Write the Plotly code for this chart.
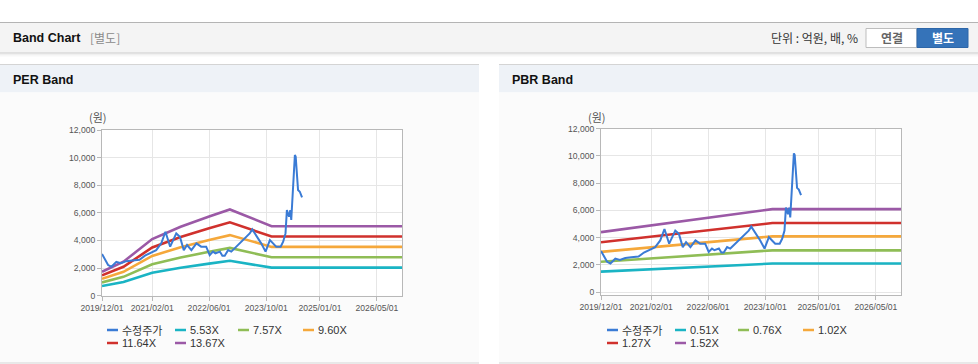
import plotly.graph_objects as go

# ---------------- data ----------------
price_dates = [
    "2019-12-01", "2020-01-22", "2020-02-19", "2020-04-01", "2020-05-10", "2020-06-25",
    "2020-08-15", "2020-10-16", "2020-12-01", "2021-01-11", "2021-03-07", "2021-04-19",
    "2021-05-25", "2021-07-04", "2021-08-25", "2021-09-25", "2021-10-28", "2021-11-25",
    "2022-01-01", "2022-02-13", "2022-03-25", "2022-05-07", "2022-06-06", "2022-07-04",
    "2022-07-25", "2022-09-01", "2022-09-22", "2022-10-12", "2022-11-10", "2022-12-07",
    "2023-01-19", "2023-03-16", "2023-05-13", "2023-06-04", "2023-07-07", "2023-08-19",
    "2023-09-25", "2023-11-01", "2023-11-28", "2023-12-25", "2024-02-01", "2024-02-22",
    "2024-03-13", "2024-03-25", "2024-04-12", "2024-04-23", "2024-05-01", "2024-05-10",
    "2024-05-22", "2024-06-01", "2024-06-08", "2024-06-13", "2024-06-28", "2024-07-13",
    "2024-08-01",
]
price_values = [
    3020, 2220, 2100, 2450, 2350, 2500,
    2550, 2600, 2900, 3070, 3300, 3790,
    4630, 3550, 4510, 4270, 3300, 3670,
    3300, 3790, 3550, 3550, 2940, 3190,
    3070, 3190, 2900, 2900, 3300, 3190,
    3550, 4030, 4510, 4800, 4390, 3790,
    3190, 4030, 3790, 3550, 3550, 3910,
    4510, 6200, 5720, 6200, 5480, 6690,
    8620, 10190, 10070, 9220, 7650, 7530,
    7120,
]

per_dates = ["2019-12-01", "2020-06-01", "2021-02-01", "2021-10-01", "2022-06-01",
             "2022-11-25", "2023-11-15", "2026-12-01"]
per_names = ["5.53X", "7.57X", "9.60X", "11.64X", "13.67X"]
per_553 = [702, 995, 1659, 2018, 2323, 2527, 2035, 2035]
per_757 = [961, 1363, 2271, 2763, 3179, 3459, 2786, 2786]
per_960 = [1219, 1728, 2880, 3504, 4032, 4387, 3533, 3533]
per_1164 = [1478, 2095, 3492, 4249, 4889, 5319, 4284, 4284]
per_1367 = [1736, 2461, 4101, 4990, 5741, 6247, 5031, 5031]

pbr_dates = ["2019-12-01", "2023-12-01", "2026-12-01"]
pbr_names = ["0.51X", "0.76X", "1.02X", "1.27X", "1.52X"]
pbr_051 = [1500, 2090, 2090]
pbr_076 = [2220, 3060, 3060]
pbr_102 = [2950, 4090, 4090]
pbr_127 = [3650, 5070, 5070]
pbr_152 = [4400, 6090, 6090]

price_name = "수정주가"
tick_dates = ["2019-12-01", "2021-02-01", "2022-06-01", "2023-10-01", "2025-01-01", "2026-05-01"]
tick_labels = ["2019/12/01", "2021/02/01", "2022/06/01", "2023/10/01", "2025/01/01", "2026/05/01"]

# ---------------- style ----------------
W, H = 978, 364
price_color = "#3a7bd5"
band_colors = ["#1ab4c4", "#8fbd56", "#f5a83b", "#d0312d", "#9b59a6"]
FONT = "Liberation Sans, Arial, Noto Sans CJK KR, sans-serif"
KFONT = "Noto Sans CJK KR, Liberation Sans, sans-serif"


def px(x):
    return x / W


def py(y):
    return 1 - y / H


fig = go.Figure()

per_bands = [per_553, per_757, per_960, per_1164, per_1367]
pbr_bands = [pbr_051, pbr_076, pbr_102, pbr_127, pbr_152]

for vals, name, col in zip(per_bands, per_names, band_colors):
    fig.add_trace(go.Scatter(x=per_dates, y=vals, name=name, mode="lines",
                             line=dict(color=col, width=2.6), xaxis="x", yaxis="y",
                             showlegend=False, hoverinfo="skip"))
fig.add_trace(go.Scatter(x=price_dates, y=price_values, name=price_name, mode="lines",
                         line=dict(color=price_color, width=2), xaxis="x", yaxis="y",
                         showlegend=False, hoverinfo="skip"))

for vals, name, col in zip(pbr_bands, pbr_names, band_colors):
    fig.add_trace(go.Scatter(x=pbr_dates, y=vals, name=name, mode="lines",
                             line=dict(color=col, width=2.6), xaxis="x2", yaxis="y2",
                             showlegend=False, hoverinfo="skip"))
fig.add_trace(go.Scatter(x=price_dates, y=price_values, name=price_name, mode="lines",
                         line=dict(color=price_color, width=2), xaxis="x2", yaxis="y2",
                         showlegend=False, hoverinfo="skip"))

axis_common = dict(showgrid=True, gridcolor="#e6e6e6", gridwidth=1,
                   showline=True, linecolor="#b8b8b8", linewidth=1, mirror=True,
                   ticks="outside", ticklen=4, tickcolor="#b8b8b8",
                   tickfont=dict(family=FONT, size=8.6, color="#555555"),
                   zeroline=False, fixedrange=True, automargin=False)

xcommon = dict(type="date", range=["2019-12-01", "2026-12-01"],
               tickmode="array", tickvals=tick_dates, ticktext=tick_labels, **axis_common)
ycommon = dict(tickmode="linear", dtick=2000, tickformat=",", **axis_common)

per_box = (102, 402, 130, 295.7)
pbr_box = (601, 901, 128.7, 295)

fig.update_layout(
    width=W, height=H, autosize=False,
    margin=dict(l=0, r=0, t=0, b=0, pad=0, autoexpand=False),
    paper_bgcolor="white", plot_bgcolor="white",
    showlegend=False,
    xaxis=dict(domain=[px(per_box[0]), px(per_box[1])], anchor="y", **xcommon),
    yaxis=dict(domain=[py(per_box[3]), py(per_box[2])], anchor="x", range=[0, 12000], **ycommon),
    xaxis2=dict(domain=[px(pbr_box[0]), px(pbr_box[1])], anchor="y2", **xcommon),
    yaxis2=dict(domain=[py(pbr_box[3]), py(pbr_box[2])], anchor="x2", range=[-220, 12000], **ycommon),
)

shapes = []
annotations = []


def rect(x0, x1, y0, y1, fill, line=None, layer="below"):
    shapes.append(dict(type="rect", xref="paper", yref="paper",
                       x0=px(x0), x1=px(x1), y0=py(y1), y1=py(y0),
                       fillcolor=fill, line=dict(width=1 if line else 0, color=line or fill),
                       layer=layer))


def text(x, y, s, size=12, color="#111", bold=False, xanchor="left", family=KFONT):
    annotations.append(dict(xref="paper", yref="paper", x=px(x), y=py(y), text=("<b>%s</b>" % s) if bold else s,
                            showarrow=False, xanchor=xanchor, yanchor="middle",
                            font=dict(family=family, size=size, color=color)))


# Top header bar
rect(0, W, 22, 23, "#b4b4b4")
rect(0, W, 23, 52.5, "#f4f4f4")
rect(0, W, 52.5, 53.5, "#c8c8c8")
rect(0, W, 53.5, 54.5, "#e2e2e2")
rect(0, W, 54.5, 55.5, "#efefef")
rect(0, W, 55.5, 56.5, "#f8f8f8")
text(11, 38, "Band Chart", size=12.5, bold=True, family=FONT)
text(88, 38, "[별도]", size=12, color="#8a8a8a")
text(860, 38, "단위 : 억원, 배, %", size=12, color="#333333", xanchor="right")
rect(866, 917, 28.5, 47.5, "#ffffff", line="#bdbdbd", layer="above")
rect(917, 968, 28.5, 47.5, "#3573b9", line="#2d66a8", layer="above")
text(891.5, 38, "연결", size=12, color="#666666", bold=True, xanchor="center")
text(942.5, 38, "별도", size=12, color="#ffffff", bold=True, xanchor="center")

# Panels
for (x0, x1, title, box) in [(0, 479, "PER Band", per_box), (499, W, "PBR Band", pbr_box)]:
    rect(x0, x1, 64, 65, "#d4d4d4")
    rect(x0, x1, 65, 92.5, "#eef2f7")
    rect(x0, x1, 92.5, 362.5, "#fbfbfb")
    rect(x0, x1, 362.5, 363.5, "#d4d4d4")
    rect(box[0], box[1], box[2], box[3], "#ffffff")
    text(x0 + 11, 80, title, size=12.5, bold=True, family=FONT)
    text(box[0] - 4, 117, "(원)", size=11, color="#555555", xanchor="center")

# Custom legends
legend_cols = [0, 68, 131, 196]
for (lx0, names) in [(107, per_names), (607, pbr_names)]:
    items = [(price_name, price_color)] + list(zip(names, band_colors))
    for i, (nm, col) in enumerate(items):
        row = 0 if i < 4 else 1
        col_i = i if i < 4 else i - 4
        x = lx0 + legend_cols[col_i]
        y = 330 if row == 0 else 343
        shapes.append(dict(type="line", xref="paper", yref="paper",
                           x0=px(x), x1=px(x + 11), y0=py(y), y1=py(y),
                           line=dict(color=col, width=2.5)))
        text(x + 13, y, nm, size=11, color="#333333",
             family=(KFONT if nm == price_name else FONT))

fig.update_layout(shapes=shapes, annotations=annotations)
fig.write_html("out.html", config={"responsive": False, "displayModeBar": False},
               post_script="document.body.style.margin='0';document.body.style.overflow='hidden';")
